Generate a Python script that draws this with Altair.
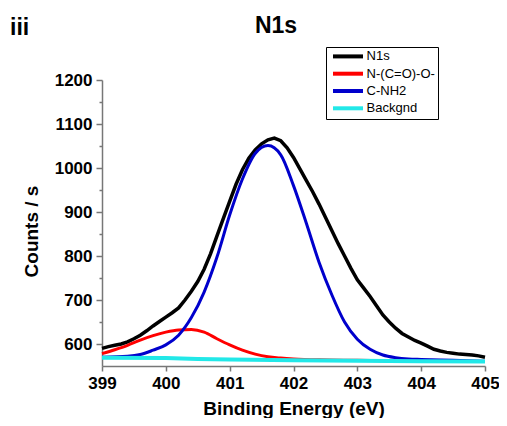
import altair as alt
import pandas as pd

# ---------------- data ----------------
energy_n1s = [399.0, 399.1, 399.2, 399.3, 399.4, 399.5, 399.6, 399.7, 399.8, 399.9,
              400.0, 400.1, 400.2, 400.3, 400.4, 400.5, 400.6, 400.7, 400.8, 400.9,
              401.0, 401.1, 401.2, 401.3, 401.4, 401.5, 401.6, 401.7, 401.8, 401.9,
              402.0, 402.1, 402.2, 402.3, 402.4, 402.5, 402.6, 402.7, 402.8, 402.9,
              403.0, 403.1, 403.2, 403.3, 403.4, 403.5, 403.6, 403.7, 403.8, 403.9,
              404.0, 404.1, 404.2, 404.3, 404.4, 404.5, 404.6, 404.7, 404.8, 404.9, 405.0]
counts_n1s = [590, 594, 597, 600, 605, 612, 620, 630, 641, 651,
              661, 671, 682, 700, 720, 742, 770, 805, 845, 885,
              924, 963, 996, 1022, 1041, 1055, 1064, 1068, 1062, 1046,
              1024, 998, 972, 946, 918, 888, 858, 828, 800, 772,
              746, 727, 708, 687, 666, 650, 636, 624, 616, 608,
              602, 595, 588, 584, 581, 579, 577, 576, 575, 573, 570]

energy_carbamate = [399.0, 399.2, 399.4, 399.6, 399.8, 400.0, 400.2, 400.4, 400.6, 400.8,
                    401.0, 401.2, 401.4, 401.6, 401.8, 402.0, 402.4, 403.0, 404.0, 405.0]
counts_carbamate = [578, 587, 597, 609, 619, 627, 632, 633, 627, 612,
                    598, 586, 577, 571, 568, 566, 564, 563, 561, 560]

energy_amine = [399.0, 399.4, 399.6, 399.8, 400.0, 400.2, 400.4, 400.6, 400.8, 401.0,
                401.2, 401.4, 401.6, 401.8, 402.0, 402.2, 402.4, 402.6, 402.8, 403.0,
                403.2, 403.4, 403.6, 403.8, 404.0, 404.5, 405.0]
counts_amine = [570, 572, 576, 586, 598, 620, 660, 718, 797, 893,
                975, 1033, 1051, 1030, 960, 875, 786, 712, 650, 611,
                588, 575, 569, 566, 565, 563, 561]

energy_bg = [399.0, 400.0, 400.5, 401.0, 402.0, 403.0, 404.0, 405.0]
counts_bg = [569, 568, 566, 565, 563, 562, 561, 560]

series_names = ["N1s", "N-(C=O)-O-", "C-NH2", "Backgnd"]
series_colors = ["#000000", "#ff0000", "#0000cc", "#22e8e8"]
series_widths = [3.5, 3, 3, 4]
series_interp = ["linear", "monotone", "monotone", "linear"]

x_ticks = [399, 399.5, 400, 400.5, 401, 401.5, 402, 402.5, 403, 403.5, 404, 404.5, 405]
y_ticks = [600, 650, 700, 750, 800, 850, 900, 950, 1000, 1050, 1100, 1150, 1200]

panel_label = ["iii"]
chart_title = ["N1s"]

# ---------------- table ----------------
frames = []
for name, xs, ys in zip(series_names,
                        [energy_n1s, energy_carbamate, energy_amine, energy_bg],
                        [counts_n1s, counts_carbamate, counts_amine, counts_bg]):
    frames.append(pd.DataFrame({"energy": xs, "counts": ys, "series": name}))
df = pd.concat(frames, ignore_index=True)

FONT = "Liberation Sans"
AX = "#777777"

x_enc = alt.X(
    "energy:Q",
    scale=alt.Scale(domain=[399, 405], nice=False, zero=False),
    title="Binding Energy (eV)",
    axis=alt.Axis(
        values=x_ticks, format="d",
        labelExpr="datum.value % 1 === 0 ? datum.label : ''",
        tickSize={"condition": {"test": "datum.value % 1 === 0", "value": 5}, "value": 2},
        grid=False, labelFlush=False,
        domainColor=AX, tickColor=AX, domainWidth=1.5, tickWidth=1.5,
        labelFont=FONT, labelFontSize=17, labelFontWeight="bold", labelColor="black",
        labelPadding=4,
        titleFont=FONT, titleFontSize=19, titleFontWeight="bold", titleColor="black",
        titleY=48, titleBaseline="alphabetic",
    ),
)

y_enc = alt.Y(
    "counts:Q",
    scale=alt.Scale(domain=[550, 1200], nice=False, zero=False),
    title="Counts / s",
    axis=alt.Axis(
        values=y_ticks, format="d",
        labelExpr="datum.value % 100 === 0 ? datum.label : ''",
        tickSize={"condition": {"test": "datum.value % 100 === 0", "value": 6}, "value": 3},
        grid=False,
        domainColor=AX, tickColor=AX, domainWidth=1.5, tickWidth=1.5,
        labelFont=FONT, labelFontSize=17, labelFontWeight="bold", labelColor="black",
        labelPadding=4,
        titleFont=FONT, titleFontSize=19, titleFontWeight="bold", titleColor="black",
        titleX=-64.7, titleY=151, titleBaseline="alphabetic", titleAngle=270,
    ),
)

color_enc = alt.Color(
    "series:N",
    scale=alt.Scale(domain=series_names, range=series_colors),
    legend=alt.Legend(
        title=None, orient="none", legendX=224, legendY=-33,
        symbolType="M-3,0H3", symbolSize=100, symbolStrokeWidth=4,
        symbolOffset=12.6, labelOffset=11.6,
        labelFont=FONT, labelFontSize=13, labelColor="black",
        labelExpr="datum.label + '\u00a0\u00a0\u00a0\u00a0\u00a0\u00a0'",
        strokeColor="black", fillColor="white", padding=2.4, rowPadding=1.3,
    ),
)

base = alt.Chart(df).encode(x=x_enc, y=y_enc, color=color_enc)

layers = []
for name, w, interp in zip(series_names, series_widths, series_interp):
    layers.append(
        base.transform_filter(alt.datum.series == name)
        .mark_line(strokeWidth=w, interpolate=interp)
    )

title_text = alt.Chart(pd.DataFrame({"t": chart_title})).mark_text(
    font=FONT, fontSize=23, fontWeight="bold", align="center", baseline="alphabetic",
    color="black",
).encode(text="t:N", x=alt.value(174), y=alt.value(-47))

panel_text = alt.Chart(pd.DataFrame({"t": panel_label})).mark_text(
    font=FONT, fontSize=23, fontWeight="bold", align="left", baseline="alphabetic",
    color="black",
).encode(text="t:N", x=alt.value(-92), y=alt.value(-45))

chart = alt.layer(*layers, title_text, panel_text).properties(
    width=383, height=286,
    padding={"left": 94, "top": 72, "right": 14, "bottom": 52},
    autosize=alt.AutoSizeParams(type="none"),
).configure_view(stroke=None)

chart.save("out.html", embed_options={"renderer": "svg", "actions": False})
